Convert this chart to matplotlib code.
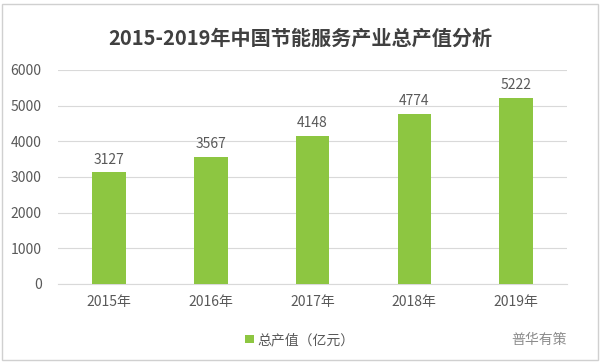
import numpy as np
import matplotlib.pyplot as plt
from matplotlib.patches import Rectangle

plt.rcParams['font.family'] = ['Noto Sans CJK SC', 'DejaVu Sans']

# 数据
years = ['2015年', '2016年', '2017年', '2018年', '2019年']
output_value = [3127, 3567, 4148, 4774, 5222]  # 总产值（亿元）
y_ticks = [0, 1000, 2000, 3000, 4000, 5000, 6000]

bar_color = '#8DC641'
text_color = '#595959'

fig = plt.figure(figsize=(6, 3.64), dpi=100)
ax = fig.add_axes([0.097, 0.22, 0.848, 0.588])

x = np.arange(len(years))
bars = ax.bar(x, output_value, width=0.33, color=bar_color, zorder=3,
              label='总产值（亿元）')

for xi, v in zip(x, output_value):
    ax.text(xi, v + 160, str(v), ha='center', va='bottom', fontsize=10, color=text_color)

ax.set_xlim(-0.5, len(years) - 0.5)
ax.set_ylim(0, 6000)
ax.set_yticks(y_ticks)
ax.set_xticks(x)
ax.set_xticklabels(years)
ax.tick_params(axis='both', length=0, labelsize=10, labelcolor=text_color)
ax.tick_params(axis='y', pad=12)
ax.tick_params(axis='x', pad=8)
ax.grid(axis='y', color='#D9D9D9', linewidth=0.8, zorder=0)
for s in ['top', 'right', 'left']:
    ax.spines[s].set_visible(False)
ax.spines['bottom'].set_color('#D9D9D9')

fig.text(0.5, 0.895, '2015-2019年中国节能服务产业总产值分析', ha='center', va='center',
         fontsize=14.5, fontweight='bold', color='#404040')

fig.legend(handles=[bars], loc='center', bbox_to_anchor=(0.5, 0.066), frameon=False,
           fontsize=10, labelcolor=text_color, handlelength=0.6, handleheight=0.6,
           handletextpad=0.3)

fig.text(0.945, 0.066, '普华有策', ha='right', va='center', fontsize=10, color='#8C8C8C')

# 外框
fig.patches.append(Rectangle((0.003, 0.012), 0.994, 0.976, transform=fig.transFigure,
                             fill=False, edgecolor='#D0D0D0', linewidth=1))

fig.savefig('out.png', dpi=100)
